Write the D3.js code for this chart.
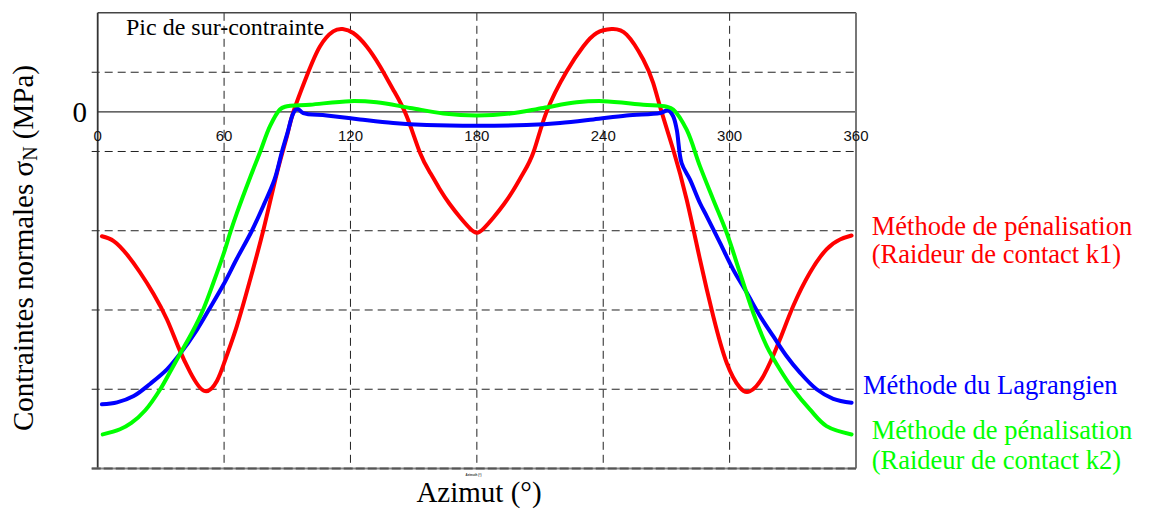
<!DOCTYPE html>
<html>
<head>
<meta charset="utf-8">
<script src="https://cdn.jsdelivr.net/npm/d3@7"></script>
<style>
    body { margin: 0; background: #fff; }
    svg { display: block; }
</style>
</head>
<body>
<div id="chart"></div>
<script>
// azimut (deg) / contrainte normale
const redAz = [2, 7.6, 13.9, 20.2, 26.6, 32.9, 38.4, 44, 50.6, 56.6, 60.6, 66.1, 72.4, 78.8, 85.1, 89.9,
    92.9, 99.2, 105.5, 111.8, 116.3, 121.3, 127.7, 134, 140.3, 146.7, 153, 158, 162.5, 167, 172, 176.7, 180,
    183.3, 188, 193, 197.5, 202, 207, 213.1, 222.6, 230.5, 236.9, 244, 251.1, 259, 263.7, 267.7, 273.2, 279.6,
    285.9, 292.2, 298.6, 304.9, 309.6, 316, 323.9, 330.2, 338.1, 346, 352.4, 357.9];
const redVal = [-31.4, -32.6, -36, -40.6, -46, -52.4, -59.5, -65.8, -70.4, -67.9, -62.5, -54, -42.3, -29.5, -15.4, -6,
    0, 9, 16.5, 20.3, 20.9, 19.9, 16.5, 11.5, 5.6, -1.1, -10.3, -15.5, -19.6, -23.2, -26.6, -29.4, -30.5,
    -29.4, -26.6, -23.2, -19.6, -15.5, -10, 0, 10.2, 16.5, 19.9, 20.9, 19.5, 13.2, 7.3, 0, -9.5, -22.1,
    -37.2, -51.5, -63.3, -69.6, -70.5, -66.7, -57.4, -49, -40.6, -34.7, -32.2, -31.2];

const blueAz = [2, 9.2, 17.1, 25, 32.9, 39.2, 47.1, 52.7, 59.8, 66.1, 73.2, 78.8, 84, 87.5, 90, 92.9,
    94.7, 97.6, 108.7, 124.5, 140.3, 156.2, 180, 203.6, 219.5, 235.3, 251.1, 267, 270.9, 273.2, 274.9,
    277.2, 281.2, 285.9, 289.1, 295.4, 301.7, 308.1, 314.4, 320.7, 327, 333.4, 341.3, 349.2, 357.9];
const blueVal = [-73.8, -73.3, -71.7, -68.6, -65, -61, -55, -50, -43.5, -37, -30, -23.5, -17, -10, -5.5, -0.3,
    0.8, -0.3, -0.9, -1.9, -2.8, -3.3, -3.5, -3.3, -2.8, -1.9, -0.9, -0.3, 0.4, -1.1, -4.5,
    -12.9, -17.1, -23, -26.3, -33, -39.8, -45.6, -51.5, -56.6, -61.6, -65.8, -70, -72.4, -73.4];

const greenAz = [2.4, 10.6, 16, 22.6, 29.7, 35, 39.2, 45, 50, 55, 59.8, 62.9, 66.1, 72.4, 77.2, 81.8, 86.5, 88.9,
    100.8, 119.8, 132.4, 148.3, 164.1, 180, 195.8, 211.5, 227.4, 240, 259, 270.1, 273.2, 279.6,
    285.9, 292.2, 298.6, 304.9, 311.2, 317.6, 323.9, 330.2, 338.1, 346, 357.9];
const greenVal = [-81.4, -80.1, -78.5, -75.3, -70, -65, -61, -55.5, -50, -43, -35.8, -30.5, -25.5, -16.5, -10, -3.6, 0.6, 1.3,
    1.8, 2.7, 2.4, 1.0, -0.4, -0.9, -0.4, 1.0, 2.4, 2.7, 1.8, 1.3, 0.6, -4.5,
    -13.7, -22.1, -30.5, -40.6, -50.7, -59.1, -65, -70, -75.1, -79.3, -81.4];

const xTicks = [0, 60, 120, 180, 240, 300, 360];
const xGrid = [60, 120, 180, 240, 300];
const yGrid = [10, -10, -30, -50, -70];

function draw() {
    var margin = {top: 12.8, right: 293, bottom: 40.5, left: 97.7},
        width = 1149 - margin.left - margin.right,
        height = 509 - margin.top - margin.bottom;

    var svg = d3.select("#chart")
        .append("svg")
        .attr("width", 1149)
        .attr("height", 509)
        .append("g")
        .attr("transform", "translate(" + margin.left + "," + margin.top + ")");

    var x = d3.scaleLinear().domain([0, 360]).range([0, width]);
    var y = d3.scaleLinear().domain([-90, 25]).range([height, 0]);

    // dashed grid
    svg.selectAll(".vgrid")
        .data(xGrid)
        .enter().append("line")
        .attr("x1", d => x(d)).attr("x2", d => x(d))
        .attr("y1", 0).attr("y2", height)
        .attr("stroke", "#222").attr("stroke-width", 1)
        .style("stroke-dasharray", "8,5");

    svg.selectAll(".hgrid")
        .data(yGrid)
        .enter().append("line")
        .attr("x1", -6).attr("x2", width)
        .attr("y1", d => y(d)).attr("y2", d => y(d))
        .attr("stroke", "#222").attr("stroke-width", 1)
        .style("stroke-dasharray", "8,5");

    // zero line
    svg.append("line")
        .attr("x1", 0).attr("x2", width)
        .attr("y1", y(0)).attr("y2", y(0))
        .attr("stroke", "#333").attr("stroke-width", 1.2);

    // frame
    svg.append("line")
        .attr("x1", 0).attr("x2", width).attr("y1", 0).attr("y2", 0)
        .attr("stroke", "#444").attr("stroke-width", 1.5);
    svg.append("line")
        .attr("x1", 0).attr("x2", 0).attr("y1", 0).attr("y2", height)
        .attr("stroke", "#333").attr("stroke-width", 1.8);
    svg.append("line")
        .attr("x1", width).attr("x2", width).attr("y1", 0).attr("y2", height)
        .attr("stroke", "#777").attr("stroke-width", 2);
    svg.append("line")
        .attr("x1", -6).attr("x2", width).attr("y1", height).attr("y2", height)
        .attr("stroke", "#888").attr("stroke-width", 2.2);
    svg.append("line")
        .attr("x1", -6).attr("x2", width).attr("y1", height).attr("y2", height)
        .attr("stroke", "#555").attr("stroke-width", 2.2)
        .style("stroke-dasharray", "9,3");

    // x tick labels, sitting under the zero line
    svg.selectAll(".xlab")
        .data(xTicks)
        .enter().append("text")
        .attr("x", d => x(d))
        .attr("y", y(0) + 28.8)
        .attr("text-anchor", "middle")
        .style("font-family", "'Liberation Sans', Arial, sans-serif")
        .style("font-size", "15px")
        .attr("fill", "#111")
        .text(d => d);

    // curves
    var series = [
        {az: redAz, val: redVal, color: "#ff0000", curve: d3.curveNatural},
        {az: blueAz, val: blueVal, color: "#0000ff", curve: d3.curveCatmullRom.alpha(0.5)},
        {az: greenAz, val: greenVal, color: "#00ff00", curve: d3.curveCatmullRom.alpha(0.5)}
    ];
    series.forEach(function (s) {
        var line = d3.line()
            .x(d => x(d[0]))
            .y(d => y(d[1]))
            .curve(s.curve);
        svg.append("path")
            .datum(d3.zip(s.az, s.val))
            .attr("fill", "none")
            .attr("stroke", s.color)
            .attr("stroke-width", 4)
            .attr("stroke-linejoin", "round")
            .attr("stroke-linecap", "round")
            .attr("d", line);
    });

    var serif = "'Liberation Serif', 'Times New Roman', serif";

    // y "0" label
    svg.append("text")
        .attr("x", -18)
        .attr("y", y(0) + 9.8)
        .attr("text-anchor", "middle")
        .style("font-family", serif)
        .style("font-size", "29px")
        .text("0");

    // annotation
    svg.append("text")
        .attr("x", 126 - margin.left)
        .attr("y", 35 - margin.top)
        .style("font-family", serif)
        .style("font-size", "24px")
        .text("Pic de sur-contrainte");

    // y label
    var ylab = svg.append("text")
        .attr("transform", "translate(" + (33 - margin.left) + "," + (248 - margin.top) + ")rotate(-90)")
        .attr("text-anchor", "middle")
        .style("font-family", serif)
        .style("font-size", "29px");
    ylab.append("tspan").text("Contraintes normales σ");
    ylab.append("tspan").attr("baseline-shift", "-22%").style("font-size", "20px").text("N");
    ylab.append("tspan").text(" (MPa)");

    // x label
    svg.append("text")
        .attr("x", 479 - margin.left)
        .attr("y", 502.5 - margin.top)
        .attr("text-anchor", "middle")
        .style("font-family", serif)
        .style("font-size", "29px")
        .text("Azimut (°)");
    svg.append("text")
        .attr("x", 473.5 - margin.left)
        .attr("y", 476 - margin.top)
        .attr("text-anchor", "middle")
        .style("font-family", "'Liberation Sans', Arial, sans-serif")
        .style("font-size", "3px")
        .style("font-weight", "bold")
        .attr("fill", "#333")
        .text("Azimuth (°)");

    // legend labels at the right of the curves
    var legend = [
        {text: "Méthode de pénalisation", x: 871.7, y: 235, color: "#ff0000"},
        {text: "(Raideur de contact k1)", x: 871.7, y: 263.5, color: "#ff0000"},
        {text: "Méthode du Lagrangien", x: 863, y: 394.3, color: "#0000ff"},
        {text: "Méthode de pénalisation", x: 871.7, y: 439.5, color: "#00ff00"},
        {text: "(Raideur de contact k2)", x: 871.7, y: 469.5, color: "#00ff00"}
    ];
    svg.selectAll(".leg")
        .data(legend)
        .enter().append("text")
        .attr("x", d => d.x - margin.left)
        .attr("y", d => d.y - margin.top)
        .attr("fill", d => d.color)
        .style("font-family", serif)
        .style("font-size", "26.5px")
        .text(d => d.text);
}
draw();
</script>
</body>
</html>
